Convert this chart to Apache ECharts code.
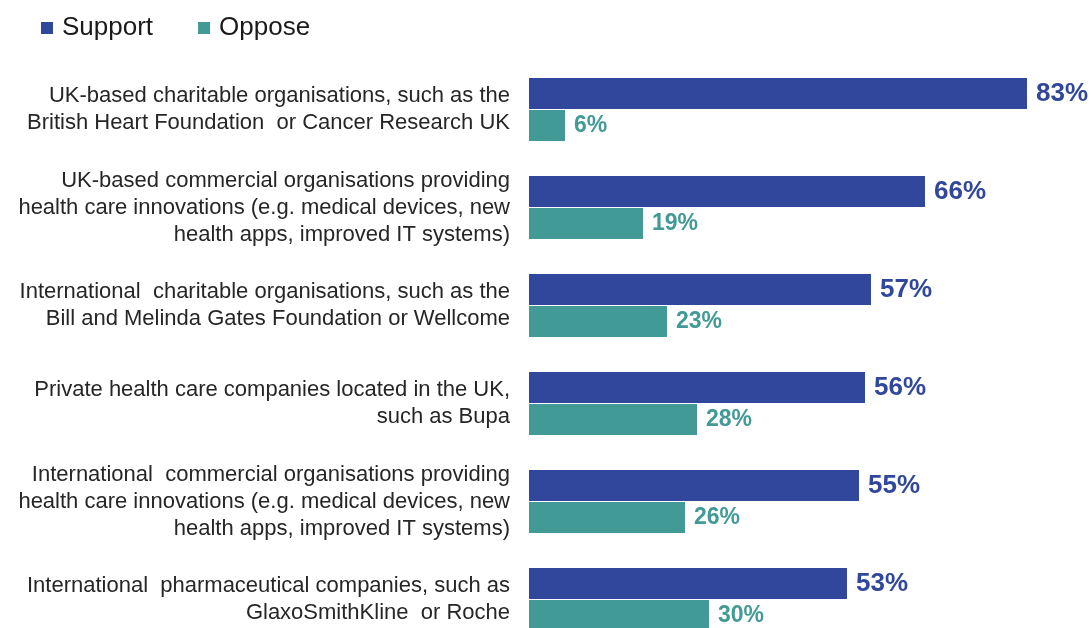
<!DOCTYPE html>
<html>
<head>
<meta charset="utf-8">
<script src="https://cdn.jsdelivr.net/npm/echarts@6/dist/echarts.min.js"></script>
<style>
  html, body { margin: 0; padding: 0; background: #ffffff; }
  #chart { width: 1092px; height: 628px; }
</style>
</head>
<body>
<div id="chart"></div>
<script>
// Organisation types, top to bottom
const categories = [
  'UK-based charitable organisations, such as the\nBritish Heart Foundation  or Cancer Research UK',
  'UK-based commercial organisations providing\nhealth care innovations (e.g. medical devices, new\nhealth apps, improved IT systems)',
  'International  charitable organisations, such as the\nBill and Melinda Gates Foundation or Wellcome',
  'Private health care companies located in the UK,\nsuch as Bupa',
  'International  commercial organisations providing\nhealth care innovations (e.g. medical devices, new\nhealth apps, improved IT systems)',
  'International  pharmaceutical companies, such as\nGlaxoSmithKline  or Roche'
];
const seriesNames = ['Support', 'Oppose'];
const supportValues = [83, 66, 57, 56, 55, 53];
const opposeValues = [6, 19, 23, 28, 26, 30];

const SUPPORT_COLOR = '#30479b';
const OPPOSE_COLOR = '#429a97';
const FONT = '"Liberation Sans", Arial, sans-serif';

const chart = echarts.init(document.getElementById('chart'), null, { renderer: 'canvas' });

chart.setOption({
  animation: false,
  backgroundColor: '#ffffff',
  textStyle: { fontFamily: FONT },
  legend: {
    left: 41,
    top: 15,
    padding: 0,
    icon: 'rect',
    itemWidth: 12,
    itemHeight: 12,
    itemGap: 45,
    data: seriesNames,
    textStyle: {
      fontFamily: FONT,
      fontSize: 26,
      color: '#1a1a1a',
      padding: [0, 0, 0, 4]
    }
  },
  grid: {
    left: 529,
    right: 35,
    top: 60.5,
    bottom: -20.5,
    containLabel: false,
    outerBoundsMode: 'none'
  },
  xAxis: {
    type: 'value',
    min: 0,
    max: 88,
    show: false
  },
  yAxis: {
    type: 'category',
    inverse: true,
    data: categories,
    axisLine: { show: false },
    axisTick: { show: false },
    axisLabel: {
      margin: 19,
      fontFamily: FONT,
      fontSize: 22,
      lineHeight: 27,
      color: '#262626',
      align: 'right'
    }
  },
  series: [
    {
      name: seriesNames[0],
      type: 'bar',
      data: supportValues,
      barWidth: 31,
      barGap: '4%',
      itemStyle: { color: SUPPORT_COLOR },
      label: {
        show: true,
        position: 'right',
        distance: 9,
        formatter: p => p.value + '%',
        fontFamily: FONT,
        fontSize: 26,
        fontWeight: 'bold',
        color: SUPPORT_COLOR
      }
    },
    {
      name: seriesNames[1],
      type: 'bar',
      data: opposeValues,
      barWidth: 31,
      itemStyle: { color: OPPOSE_COLOR },
      label: {
        show: true,
        position: 'right',
        distance: 9,
        formatter: p => p.value + '%',
        fontFamily: FONT,
        fontSize: 23,
        fontWeight: 'bold',
        color: OPPOSE_COLOR
      }
    }
  ]
});
</script>
</body>
</html>
